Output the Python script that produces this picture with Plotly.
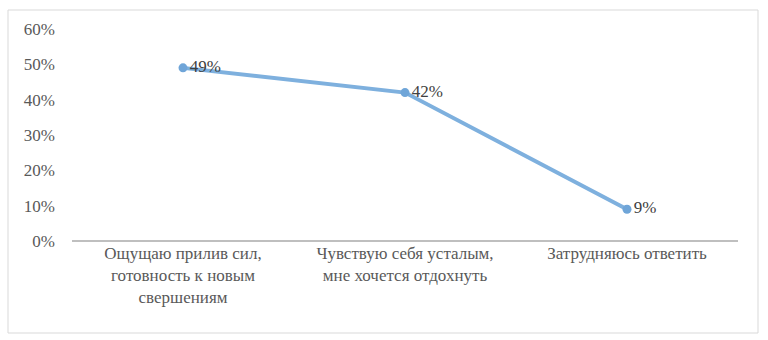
import plotly.graph_objects as go

categories = [
    "Ощущаю прилив сил,<br>готовность к новым<br>свершениям",
    "Чувствую себя усталым,<br>мне хочется отдохнуть",
    "Затрудняюсь ответить",
]
values = [0.49, 0.42, 0.09]
labels = ["49%", "42%", "9%"]
y_ticks = [0, 0.1, 0.2, 0.3, 0.4, 0.5, 0.6]
y_tick_labels = ["0%", "10%", "20%", "30%", "40%", "50%", "60%"]

FONT = "Liberation Serif"

fig = go.Figure(
    go.Scatter(
        x=categories,
        y=values,
        mode="lines+markers+text",
        text=labels,
        textposition="middle right",
        textfont=dict(family=FONT, size=17, color="#404040"),
        line=dict(color="#7EB0DE", width=4),
        marker=dict(color="#6FA5D8", size=9),
        cliponaxis=False,
    )
)

fig.update_layout(
    width=768,
    height=340,
    margin=dict(l=72, r=30, t=29, b=99),
    paper_bgcolor="white",
    plot_bgcolor="white",
    showlegend=False,
    font=dict(family=FONT),
    xaxis=dict(
        showgrid=False,
        showline=False,
        ticks="",
        tickfont=dict(family=FONT, size=17, color="#595959"),
        range=[-0.5, 2.5],
    ),
    yaxis=dict(
        range=[0, 0.6],
        tickvals=y_ticks,
        ticktext=y_tick_labels,
        showgrid=False,
        showline=False,
        zeroline=True,
        zerolinecolor="#BFBFBF",
        zerolinewidth=2,
        ticks="",
        ticklabelstandoff=16,
        tickfont=dict(family=FONT, size=17, color="#595959"),
    ),
    shapes=[
        dict(
            type="rect",
            xref="paper",
            yref="paper",
            x0=(8 - 72) / 666,
            x1=(758 - 72) / 666,
            y0=(241 - 333) / 212,
            y1=(241 - 10) / 212,
            line=dict(color="#D9D9D9", width=1),
            fillcolor="rgba(0,0,0,0)",
            layer="below",
        )
    ],
)

post = (
    "document.body.style.margin='0';"
    "document.body.style.overflow='hidden';"
    "var s=document.createElement('style');"
    "s.textContent=\".main-svg text{font-family:'Liberation Serif','Times New Roman',serif !important;}\";"
    "document.head.appendChild(s);"
)

fig.write_html(
    "out.html",
    config={"displayModeBar": False},
    post_script=post,
)
